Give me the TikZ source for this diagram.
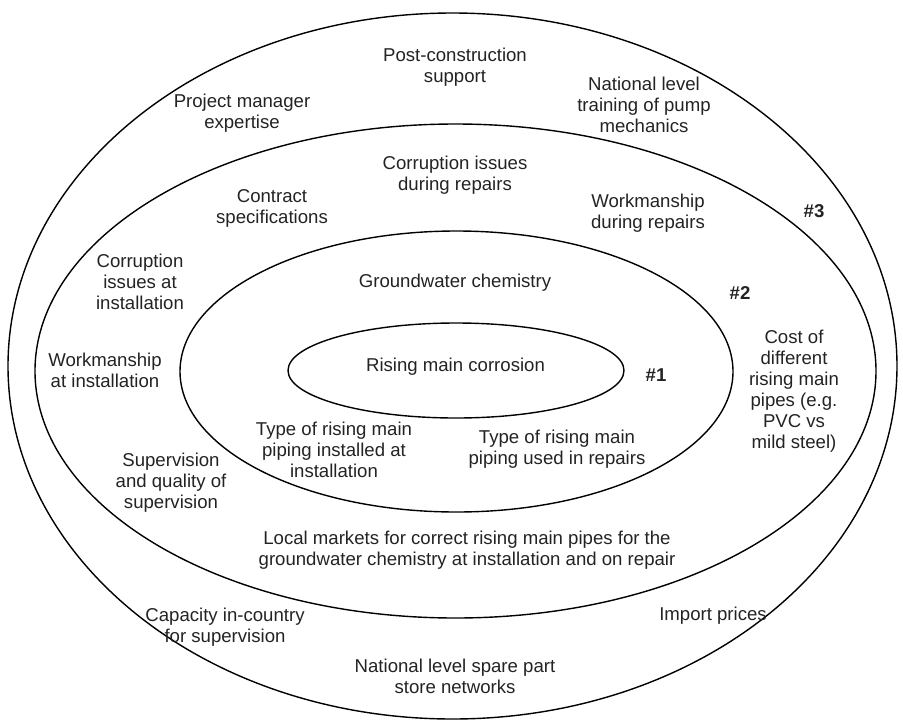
\documentclass[tikz,border=0pt]{standalone}
\usepackage{fontspec}
\setmainfont{Liberation Sans}
\definecolor{txt}{RGB}{35,35,35}
\begin{document}
\begin{tikzpicture}[x=1pt,y=-1pt,
  ring/.style={draw=black,line width=1.4pt},
  lbl/.style={font=\fontsize{18.6}{21}\selectfont,align=center,inner sep=0pt,text=txt},
  num/.style={font=\fontsize{18.6}{21}\selectfont\bfseries,inner sep=0pt,text=txt}]
\useasboundingbox (0,0) rectangle (903,724);
% rings
\draw[ring] (452.5,366) ellipse [x radius=444.5pt, y radius=353pt];
\draw[ring] (455.5,371) ellipse [x radius=420.5pt, y radius=247pt];
\draw[ring] (456.5,371.5) ellipse [x radius=276.5pt, y radius=140.5pt];
\draw[ring] (456,370.5) ellipse [x radius=168pt, y radius=47.5pt];
% labels ring numbers
\node[num] (n1) at (656,375) {\#1};
\node[num] (n2) at (740,293) {\#2};
\node[num] (n3) at (814,211) {\#3};
% core
\node[lbl] (core) at (455.5,367) {Rising main corrosion};
% ring 2
\node[lbl] (gw) at (455,283) {Groundwater chemistry};
\node[lbl] (typeinst) at (334,450) {Type of rising main\\piping installed at\\installation};
\node[lbl] (typerep) at (557,449) {Type of rising main\\piping used in repairs};
% ring 3
\node[lbl] (corrrep) at (455,175) {Corruption issues\\during repairs};
\node[lbl] (contract) at (272,208) {Contract\\specifications};
\node[lbl] (workrep) at (648,213) {Workmanship\\during repairs};
\node[lbl] (corrinst) at (140,282) {Corruption\\issues at\\installation};
\node[lbl] (workinst) at (105,370) {Workmanship\\at installation};
\node[lbl] (cost) at (794,391) {Cost of\\different\\rising main\\pipes (e.g.\\PVC vs\\mild steel)};
\node[lbl] (superv) at (171,483) {Supervision\\and quality of\\supervision};
\node[lbl] (markets) at (467,550) {Local markets for correct rising main pipes for the\\groundwater chemistry at installation and on repair};
% ring 4
\node[lbl] (post) at (455,67) {Post-construction\\support};
\node[lbl] (pm) at (242,113) {Project manager\\expertise};
\node[lbl] (train) at (644,105) {National level\\training of pump\\mechanics};
\node[lbl] (capacity) at (225,627) {Capacity in-country\\for supervision};
\node[lbl] (import) at (713,616) {Import prices};
\node[lbl] (spare) at (455,676) {National level spare part\\store networks};
\end{tikzpicture}
\end{document}
